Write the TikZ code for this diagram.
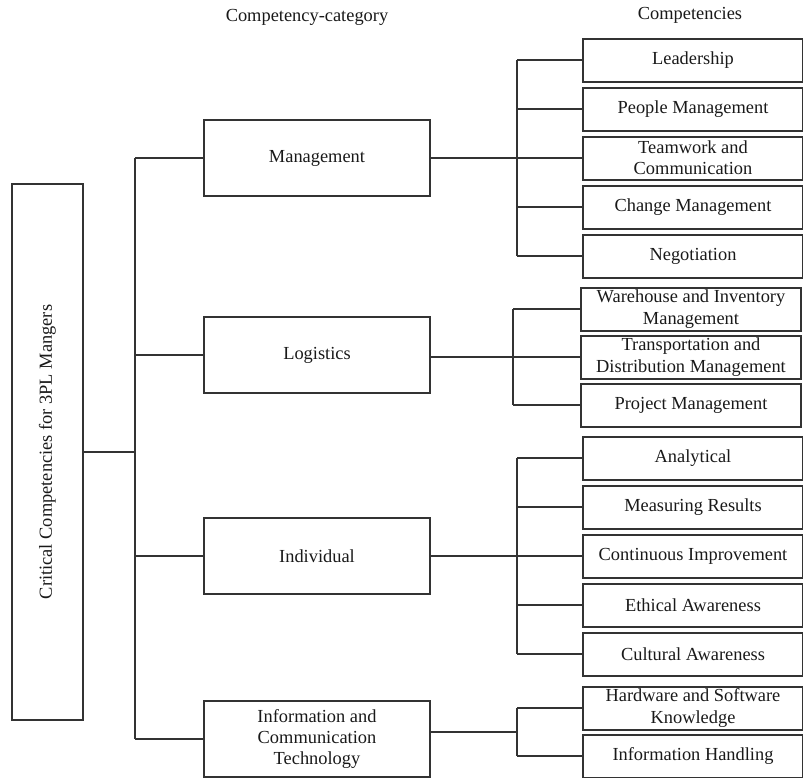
\documentclass[tikz,border=0pt]{standalone}
\usepackage{fontspec}
\setmainfont{Liberation Serif}
\begin{document}
\begin{tikzpicture}[x=0.75pt,y=-0.75pt,font=\fontsize{13.8}{16}\selectfont]
      \tikzstyle{box}=[draw,line width=1.5pt,black!80,text=black!90,align=center,inner xsep=2pt,inner ysep=0pt]
      \tikzstyle{catbox}=[box,minimum width=169.5pt,minimum height=57pt]
      \tikzstyle{leafbox}=[box,minimum width=165pt,minimum height=32.25pt]
      \tikzstyle{edge}=[draw,line width=1.5pt,black!80]
      \useasboundingbox (0,0) rectangle (803,778);
      \node[text=black!90] (H1) at (307,17) {Competency-category};
      \node[text=black!90] (H2) at (690,15) {Competencies};
      \node[box,rotate=90,minimum width=402pt,minimum height=53.25pt] (R) at (47.5,452) {Critical Competencies for 3PL Mangers};
      \node[catbox] (M) at (317,158) {Management};
      \node[catbox] (L) at (317,355) {Logistics};
      \node[catbox] (I) at (317,556) {Individual};
      \node[catbox] (T) at (317,739) {Information and\\Communication\\Technology};
      \node[leafbox] (M1) at (693,60) {Leadership};
      \node[leafbox] (M2) at (693,109) {People Management};
      \node[leafbox] (M3) at (693,158) {Teamwork and\\Communication};
      \node[leafbox] (M4) at (693,207) {Change Management};
      \node[leafbox] (M5) at (693,256) {Negotiation};
      \node[leafbox] (L1) at (691,309) {Warehouse and Inventory\\Management};
      \node[leafbox] (L2) at (691,357) {Transportation and\\Distribution Management};
      \node[leafbox] (L3) at (691,405) {Project Management};
      \node[leafbox] (I1) at (693,458) {Analytical};
      \node[leafbox] (I2) at (693,507) {Measuring Results};
      \node[leafbox] (I3) at (693,556) {Continuous Improvement};
      \node[leafbox] (I4) at (693,605) {Ethical Awareness};
      \node[leafbox] (I5) at (693,654) {Cultural Awareness};
      \node[leafbox] (T1) at (693,708) {Hardware and Software\\Knowledge};
      \node[leafbox] (T2) at (693,756) {Information Handling};
      % root to categories
      \coordinate (c) at (135,452);
      \path[edge] (R.south) -- (c);
      \path[edge] (c |- M.west) -- (c |- T.west);
      \foreach \n in {M,L,I,T}
        \path[edge] (c |- \n.west) -- (\n.west);
      % management
      \coordinate (m) at (517,158);
      \path[edge] (M.east) -- (m);
      \path[edge] (m |- M1.west) -- (m |- M5.west);
      \foreach \i in {1,...,5}
        \path[edge] (m |- M\i.west) -- (M\i.west);
      % logistics
      \coordinate (l) at (513,357);
      \path[edge] (L.east |- L2.west) -- (L2.west);
      \path[edge] (l |- L1.west) -- (l |- L3.west);
      \foreach \i in {1,3}
        \path[edge] (l |- L\i.west) -- (L\i.west);
      % individual
      \coordinate (i) at (517,556);
      \path[edge] (I.east) -- (I3.west);
      \path[edge] (i |- I1.west) -- (i |- I5.west);
      \foreach \i in {1,2,4,5}
        \path[edge] (i |- I\i.west) -- (I\i.west);
      % ict
      \coordinate (t) at (517,732);
      \path[edge] (T.east |- t) -- (t);
      \path[edge] (t |- T1.west) -- (t |- T2.west);
      \foreach \i in {1,2}
        \path[edge] (t |- T\i.west) -- (T\i.west);
    \end{tikzpicture}
\end{document}
